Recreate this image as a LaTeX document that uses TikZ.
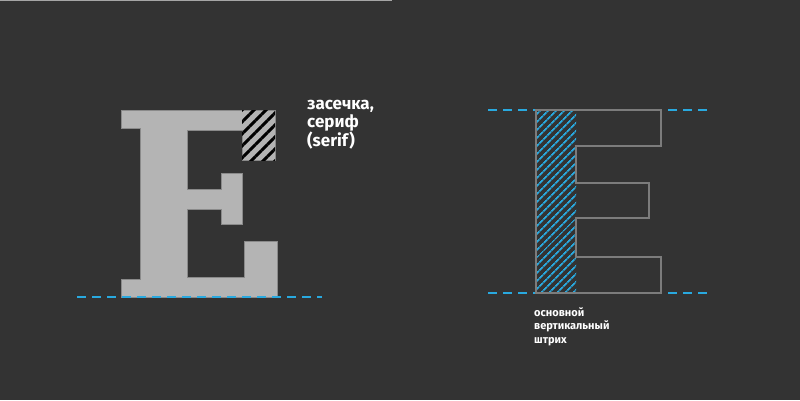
\documentclass[tikz,border=0pt]{standalone}
\usepackage{fontspec}
\setmainfont{Fira Sans}
\usetikzlibrary{patterns.meta}

\definecolor{bgdark}{HTML}{333333}
\definecolor{glyphgray}{HTML}{B4B4B4}
\definecolor{glyphedge}{HTML}{8A8A8A}
\definecolor{outlinegray}{HTML}{7C7C7C}
\definecolor{guideblue}{HTML}{29A9DF}

\begin{document}
\begin{tikzpicture}[
    x=1pt, y=-1pt,
    glyph/.style={fill=glyphgray, draw=glyphedge, line width=0.8pt},
    outline/.style={draw=outlinegray, line width=2pt},
    guide/.style={draw=guideblue, line width=1.5pt, dash pattern=on 9pt off 6pt},
    serifhatch/.style={pattern={Lines[angle=45, distance=8.5pt, line width=3pt]}, pattern color=black},
    stemhatch/.style={pattern={Lines[angle=45, distance=5.4pt, line width=1.8pt]}, pattern color=guideblue},
    caption/.style={text=white, align=left, inner sep=0pt, anchor=base west}
]
\useasboundingbox (0,0) rectangle (800,400);
\fill[bgdark] (0,0) rectangle (800,400);
\draw[gray!70, line width=1pt] (0,0.5) -- (392,0.5);

% Serif letter (left)
\draw[glyph] (121,110) -- (275,110) -- (275,160) -- (242,160) -- (242,130)
    -- (187,130) -- (187,189) -- (221,189) -- (221,173) -- (242,173)
    -- (242,224) -- (221,224) -- (221,209) -- (187,209) -- (187,277)
    -- (244,277) -- (244,241) -- (277,241) -- (277,297) -- (121,297)
    -- (121,279) -- (140,279) -- (140,128) -- (121,128) -- cycle;

% Hatched serif
\fill[serifhatch] (242,110) rectangle (275,160);

% Baseline
\draw[guide] (77,297) -- (322,297);

% base anchor = last line
\node[caption, font=\fontsize{17pt}{18pt}\selectfont\bfseries] (serif) at (307,146.7)
    {засечка,\\сериф\\(serif)};

% Sans letter (right)
\fill[stemhatch] (536,110) rectangle (576,293);
\draw[guide] (488,110) -- (708,110);
\draw[guide] (488,293) -- (708,293);
\draw[outline] (536,110) -- (661,110) -- (661,146) -- (576,146) -- (576,183)
    -- (649,183) -- (649,218) -- (576,218) -- (576,257) -- (661,257)
    -- (661,293) -- (536,293) -- cycle;

\node[caption, font=\fontsize{11pt}{13.5pt}\selectfont\bfseries] (stem) at (534,343)
    {основной\\вертикальный\\штрих};

\end{tikzpicture}
\end{document}
